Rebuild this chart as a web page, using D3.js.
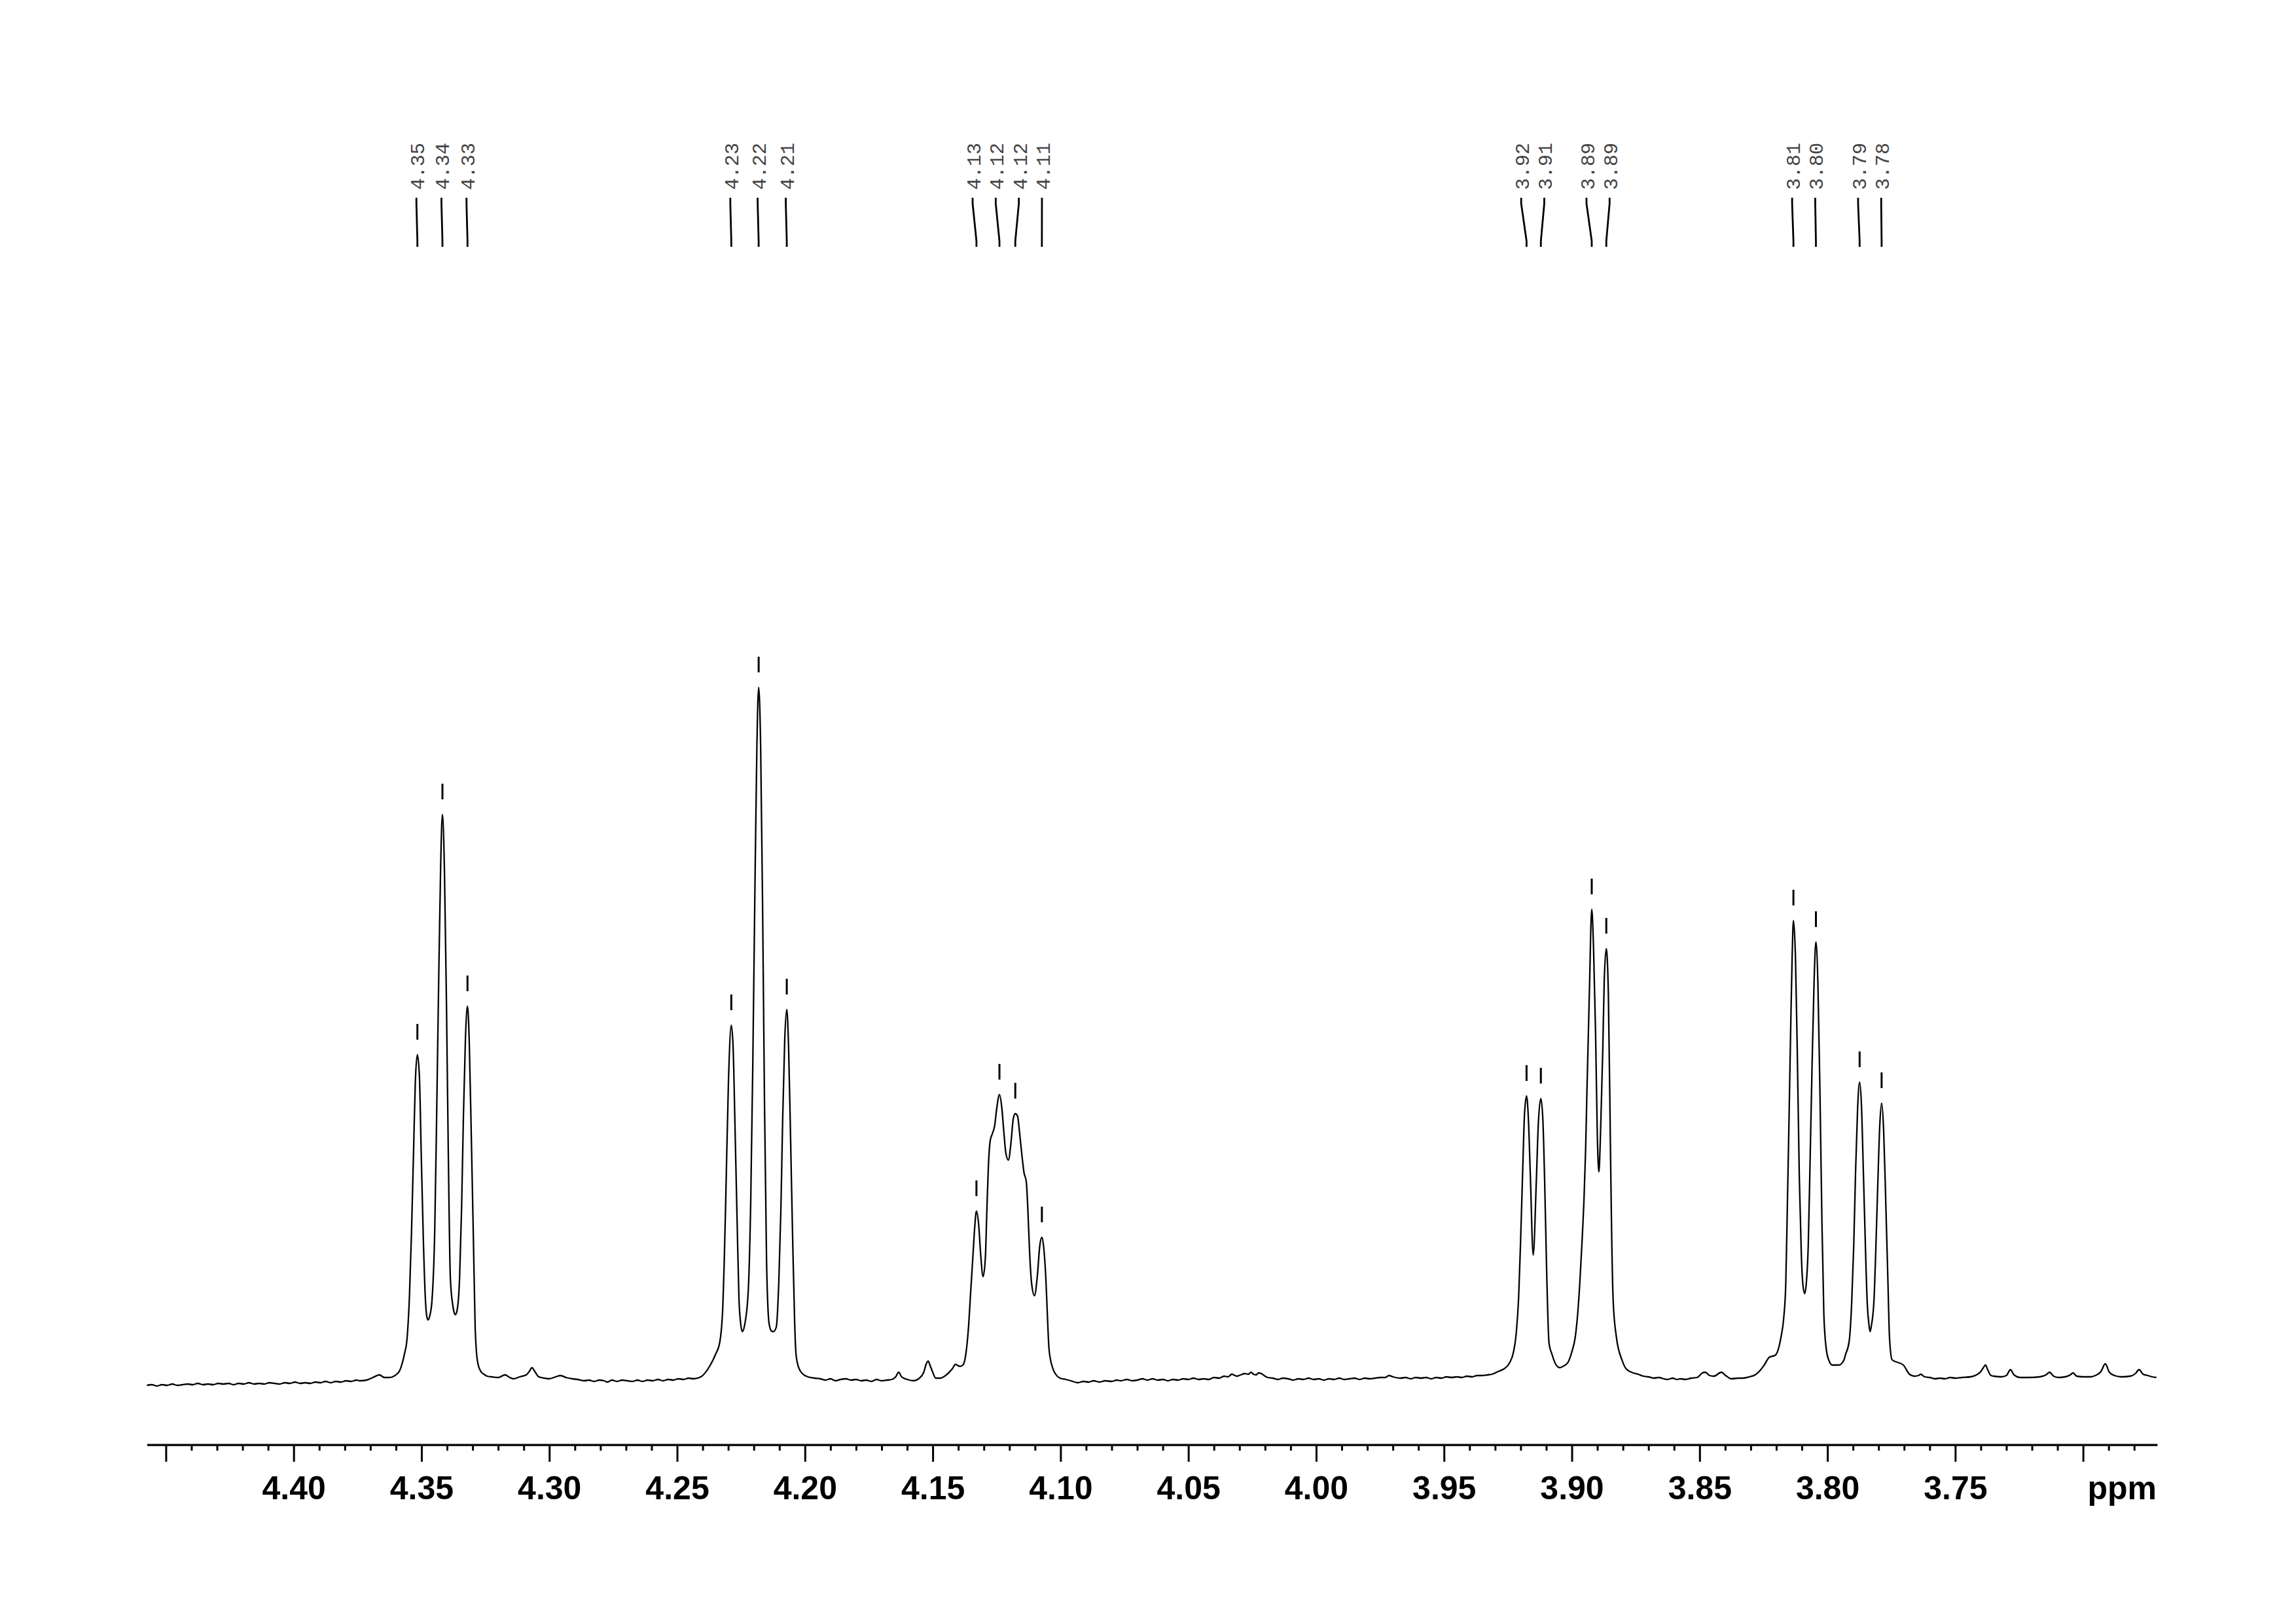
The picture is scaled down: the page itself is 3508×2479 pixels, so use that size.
<!DOCTYPE html>
<html><head><meta charset="utf-8">
<script src="https://cdn.jsdelivr.net/npm/d3@7"></script>
<style>html,body{margin:0;padding:0;background:#fff;} svg{display:block;}</style>
</head><body>
<svg id="chart" width="3508" height="2479"></svg>
<script>
// ---- DATA (chemical shift in ppm, intensity in arbitrary units) ----
const spectrum = [
[4.4574,-9],[4.4555,-8],[4.4535,-10],[4.4515,-8],[4.4495,-9],[4.4475,-7],[4.4455,-9],[4.4435,-8],[4.4415,-7],[4.4395,-8],
[4.4375,-6],[4.4355,-8],[4.4335,-7],[4.4315,-8],[4.4295,-6],[4.4275,-7],[4.4255,-6],[4.4235,-8],[4.4215,-6],[4.4195,-7],
[4.4175,-5],[4.4155,-7],[4.4135,-6],[4.4115,-7],[4.4095,-5],[4.4075,-6],[4.4055,-7],[4.4035,-5],[4.4015,-6],[4.3995,-4],
[4.3975,-6],[4.3955,-5],[4.3935,-6],[4.3915,-4],[4.3895,-5],[4.3875,-3],[4.3855,-5],[4.3835,-3],[4.3815,-4],[4.3795,-2],
[4.3775,-3],[4.3755,-1],[4.3740,-2],[4.3715,-1],[4.3690,3],[4.3665,7],[4.3645,3],
[4.3625,3],[4.3613,4],[4.3597,8],[4.3586,13],[4.3579,20],[4.3566,40],[4.3557,60],
[4.3547,128],[4.3539,225],[4.3531,348],[4.3524,455],[4.3516,496],[4.3508,462],[4.3501,345],[4.3493,218],[4.3485,125],
[4.3479,96],[4.3474,91],[4.3467,98],[4.3459,120],[4.3448,230],[4.3441,394],[4.3433,601],[4.3425,784],[4.3418,863],
[4.3410,774],[4.3402,567],[4.3395,344],[4.3387,155],[4.3377,112],[4.3371,101],[4.3367,99],[4.3361,105],[4.3351,154],
[4.3343,263],[4.3336,401],[4.3328,521],[4.3320,570],[4.3313,514],[4.3305,370],[4.3297,217],[4.3290,80],[4.3285,42],
[4.3279,24],[4.3269,13],[4.3256,8],[4.3243,5],
[4.3225,4],[4.3200,3],[4.3173,7],[4.3155,3],[4.3139,1],[4.3116,4],[4.3090,7],[4.3077,13],[4.3068,18],[4.3058,13],
[4.3041,4],[4.3020,2],[4.3001,1],[4.2975,4],[4.2956,6],[4.2935,3],[4.2910,1],[4.2890,0],[4.2864,-2],[4.2845,-1],
[4.2825,-3],[4.2805,-1],[4.2785,-2],[4.2773,-4],[4.2755,-1],[4.2735,-3],[4.2715,-1],[4.2695,-2],[4.2675,-3],[4.2655,-1],
[4.2636,-3],[4.2615,-1],[4.2595,-2],[4.2575,0],[4.2555,-2],[4.2535,0],[4.2515,-1],[4.2495,1],[4.2475,0],[4.2455,2],
[4.2435,1],
[4.2407,4],[4.2373,20],[4.2350,38],[4.2333,57],[4.2321,113],[4.2316,175],[4.2310,270],[4.2299,457],[4.2288,541],
[4.2281,508],[4.2273,378],[4.2265,238],[4.2258,123],[4.2252,88],[4.2245,73],[4.2235,85],[4.2222,133],[4.2212,272],
[4.2204,479],[4.2196,736],[4.2188,964],[4.2181,1057],[4.2173,962],[4.2165,700],[4.2158,418],[4.2150,179],[4.2140,85],
[4.2131,74],[4.2123,73],[4.2112,80],[4.2102,151],[4.2094,260],[4.2087,398],[4.2079,519],[4.2071,565],[4.2064,509],
[4.2056,367],[4.2048,215],[4.2040,85],[4.2036,45],[4.2030,26],[4.2018,13],[4.1995,5],[4.1962,2],
[4.1940,1],[4.1920,-1],[4.1900,1],[4.1880,-2],[4.1860,0],[4.1840,1],[4.1820,-1],[4.1800,0],[4.1780,-2],[4.1760,-1],
[4.1740,-3],[4.1720,0],[4.1700,-2],[4.1680,-1],[4.1660,0],[4.1645,4],[4.1633,11],
[4.1622,4],[4.1600,0],[4.1574,-2],[4.1555,1],[4.1535,11],[4.1527,22],[4.1518,28],[4.1510,21],[4.1501,12],[4.1488,2],
[4.1471,2],[4.1450,6],[4.1424,16],[4.1411,23],[4.1394,20],[4.1382,22],
[4.1369,43],[4.1360,80],[4.1352,131],[4.1343,187],[4.1336,231],[4.1329,257],[4.1320,235],[4.1313,194],[4.1303,157],
[4.1294,187],[4.1288,261],[4.1282,328],[4.1275,365],[4.1266,376],[4.1258,387],[4.1249,416],[4.1239,435],[4.1230,416],
[4.1222,379],[4.1214,346],[4.1204,335],[4.1194,361],[4.1185,398],[4.1177,406],[4.1168,402],[4.1160,376],[4.1151,342],
[4.1143,316],[4.1134,302],[4.1128,261],[4.1121,194],[4.1113,146],[4.1102,128],[4.1091,157],[4.1081,205],[4.1073,217],
[4.1066,202],[4.1057,150],[4.1051,94],[4.1045,46],[4.1032,19],[4.1019,8],[4.1002,2],[4.0980,0],[4.0960,-2],[4.0933,-5],
[4.0910,-3],[4.0890,-4],[4.0870,-2],[4.0848,-4],[4.0825,-2],[4.0800,-3],[4.0780,-1],[4.0764,-2],[4.0740,0],[4.0720,-2],
[4.0700,-1],[4.0680,1],[4.0660,-1],[4.0640,1],[4.0620,-1],[4.0600,0],[4.0580,-2],[4.0560,0],[4.0540,-1],[4.0520,1],
[4.0500,0],[4.0480,2],[4.0460,0],[4.0440,1],[4.0420,0],[4.0400,3],[4.0380,2],[4.0360,5],[4.0345,4],[4.0330,8],
[4.0310,5],[4.0295,7],[4.0280,9],[4.0265,8],[4.0255,11],[4.0245,8],[4.0235,7],[4.0225,10],[4.0215,9],[4.0200,5],
[4.0190,3],[4.0170,2],[4.0150,0],[4.0130,2],[4.0110,1],[4.0090,-1],[4.0070,1],[4.0050,0],[4.0030,2],[4.0010,0],
[3.9990,1],[3.9970,-1],[3.9950,1],[3.9930,0],[3.9910,2],[3.9890,0],[3.9870,1],[3.9850,2],[3.9830,0],[3.9810,2],
[3.9790,1],[3.9770,2],[3.9750,3],[3.9730,3],[3.9715,6],[3.9700,4],[3.9690,3],[3.9670,2],[3.9650,3],[3.9630,1],
[3.9610,3],[3.9590,2],[3.9570,3],[3.9550,1],[3.9530,3],[3.9510,2],[3.9490,4],[3.9470,3],[3.9450,4],[3.9430,3],
[3.9410,5],[3.9390,4],[3.9370,6],[3.9350,6],[3.9330,7],[3.9312,8],
[3.9289,12],[3.9266,16],[3.9244,25],[3.9228,42],[3.9218,68],[3.9208,125],[3.9200,215],[3.9192,320],[3.9185,405],
[3.9177,433],[3.9170,400],[3.9162,310],[3.9151,190],[3.9139,300],[3.9131,390],[3.9121,429],[3.9113,395],[3.9106,300],
[3.9098,160],[3.9089,55],[3.9078,39],[3.9064,24],[3.9047,18],[3.9030,21],[3.9015,26],[3.9000,42],[3.8986,66],
[3.8977,100],[3.8969,145],[3.8960,210],[3.8952,278],[3.8946,350],[3.8941,436],[3.8931,595],[3.8922,718],[3.8915,660],
[3.8907,530],[3.8900,370],[3.8894,317],[3.8887,385],[3.8879,500],[3.8873,610],[3.8865,658],[3.8857,590],[3.8849,360],
[3.8844,220],[3.8838,119],[3.8826,66],[3.8803,29],[3.8787,16],[3.8760,10],[3.8741,8],[3.8720,5],[3.8700,4],[3.8680,2],
[3.8660,3],[3.8640,1],[3.8626,0],[3.8605,2],[3.8590,0],
[3.8575,1],[3.8555,0],[3.8533,2],[3.8510,3],[3.8489,10],[3.8478,11],[3.8461,6],[3.8444,5],[3.8415,11],[3.8398,6],
[3.8375,1],[3.8350,2],[3.8329,2],[3.8305,4],[3.8283,7],[3.8265,13],[3.8249,21],[3.8227,34],[3.8204,37],[3.8181,66],
[3.8172,90],[3.8163,145],[3.8156,280],[3.8152,360],
[3.8144,530],[3.8138,645],[3.8133,701],[3.8125,645],[3.8117,480],[3.8110,310],[3.8102,190],[3.8096,145],[3.8089,131],
[3.8083,145],[3.8075,205],[3.8068,330],[3.8060,480],[3.8052,610],[3.8045,668],[3.8037,601],[3.8029,434],[3.8022,254],
[3.8014,100],[3.8004,45],[3.7993,28],[3.7981,22],[3.7955,22],[3.7935,30],[3.7930,37],[3.7915,58],[3.7905,118],
[3.7897,205],[3.7890,316],[3.7882,413],[3.7874,454],[3.7867,420],[3.7859,312],[3.7851,198],[3.7844,115],[3.7838,85],
[3.7833,73],[3.7829,80],[3.7818,120],[3.7811,195],[3.7803,298],[3.7795,390],[3.7788,422],[3.7780,380],[3.7772,274],
[3.7764,160],[3.7757,63],[3.7747,30],[3.7703,22],[3.7679,8],[3.7660,5],[3.7644,6],[3.7635,8],[3.7620,4],[3.7600,3],
[3.7580,1],[3.7560,2],[3.7540,1],[3.7520,3],[3.7500,2],[3.7474,3],[3.7440,4],[3.7417,7],[3.7400,12],[3.7390,18],
[3.7382,22],[3.7372,14],[3.7360,6],
[3.7348,5],[3.7320,4],[3.7300,6],[3.7284,15],[3.7270,7],[3.7245,3],[3.7210,3],[3.7170,4],[3.7145,7],[3.7131,11],
[3.7115,5],[3.7096,3],[3.7070,4],[3.7050,7],[3.7039,10],[3.7025,5],[3.6998,4],[3.6970,4],[3.6952,6],[3.6930,12],
[3.6913,24],[3.6897,11],[3.6877,6],[3.6850,4],[3.6816,5],[3.6795,9],[3.6781,15],[3.6765,8],[3.6747,6],[3.6730,4],
[3.6713,3]
];

const peakPpm = [4.3516, 4.3418, 4.3320, 4.2288, 4.2181, 4.2071, 4.1329, 4.1239, 4.1177, 4.1073,
                 3.9177, 3.9121, 3.8922, 3.8865, 3.8133, 3.8045, 3.7874, 3.7788];
const peakLabels = ["4.35","4.34","4.33","4.23","4.22","4.21","4.13","4.12","4.12","4.11",
                    "3.92","3.91","3.89","3.89","3.81","3.80","3.79","3.78"];

const majorTicks = [4.45,4.40,4.35,4.30,4.25,4.20,4.15,4.10,4.05,4.00,3.95,3.90,3.85,3.80,3.75,3.70];
const majorTickLabels = ["","4.40","4.35","4.30","4.25","4.20","4.15","4.10","4.05","4.00","3.95","3.90","3.85","3.80","3.75",""];
const axisUnit = "ppm";

// ---- DRAWING ----
const W = 3508, H = 2479;
const svg = d3.select("#chart");
svg.append("rect").attr("width", W).attr("height", H).attr("fill", "#fff");

const x = d3.scaleLinear().domain([4.4574, 3.6710]).range([224.5, 3295.9]);
const y = d3.scaleLinear().domain([0, 1057]).range([2107, 1050]);
const axisY = 2206.7;

// spectrum trace
const line = d3.line().x(d => x(d[0])).y(d => y(d[1])).curve(d3.curveMonotoneX);
svg.append("path").datum(spectrum)
  .attr("d", line).attr("fill", "none").attr("stroke", "#000")
  .attr("stroke-width", 2.3).attr("stroke-linejoin", "round");

// axis
const minorTicks = d3.range(445, 367, -1).map(v => v / 100).filter(v => Math.round(v * 100) % 5 !== 0);
const gMinor = svg.append("g").attr("transform", `translate(0,${axisY})`)
  .call(d3.axisBottom(x).tickValues(minorTicks).tickSize(9).tickSizeOuter(0).tickFormat(""));
gMinor.select(".domain").remove();
gMinor.selectAll(".tick line").attr("stroke", "#000").attr("stroke-width", 3);

const gMajor = svg.append("g").attr("transform", `translate(0,${axisY})`)
  .call(d3.axisBottom(x).tickValues(majorTicks).tickSize(26).tickSizeOuter(0)
        .tickFormat((d, i) => majorTickLabels[i]));
gMajor.select(".domain").attr("stroke", "#000").attr("stroke-width", 3.2);
gMajor.selectAll(".tick line").attr("stroke", "#000").attr("stroke-width", 3);
gMajor.selectAll(".tick text")
  .attr("y", 83.3).attr("dy", 0).attr("fill", "#000")
  .attr("font-family", "'Liberation Sans', Arial, sans-serif")
  .attr("font-weight", "bold").attr("font-size", 50);

svg.append("text").attr("x", 3295).attr("y", 2290).attr("text-anchor", "end")
  .attr("font-family", "'Liberation Sans', Arial, sans-serif")
  .attr("font-weight", "bold").attr("font-size", 50).attr("fill", "#000")
  .text(axisUnit);

// peak picking: labels spread apart, connectors, apex markers
function spread(xs, gap) {
  let clusters = xs.map((v, i) => ({ idx: [i], sum: v, n: 1, start: v }));
  let changed = true;
  while (changed) {
    changed = false;
    for (let k = 0; k < clusters.length - 1; k++) {
      const a = clusters[k], b = clusters[k + 1];
      const aEnd = a.start + (a.n - 1) * gap;
      if (b.start - aEnd < gap - 0.01) {
        const n = a.n + b.n, sum = a.sum + b.sum;
        clusters.splice(k, 2, { idx: a.idx.concat(b.idx), sum, n, start: sum / n - (n - 1) * gap / 2 });
        changed = true; break;
      }
    }
  }
  const out = new Array(xs.length);
  clusters.forEach(c => c.idx.forEach((id, j) => out[id] = c.start + j * gap));
  return out;
}
const peakX = peakPpm.map(p => x(p));
const labelX = spread(peakX, 35.3);

const gLab = svg.append("g");
peakPpm.forEach((p, i) => {
  const lx = labelX[i] - 1.5, px = peakX[i];
  gLab.append("text")
    .attr("transform", `translate(${lx},290) rotate(-90)`)
    .attr("dy", "0.4em")
    .attr("font-family", "'Liberation Mono', 'DejaVu Sans Mono', monospace")
    .attr("font-size", 30).attr("fill", "#444")
    .text(peakLabels[i]);
  gLab.append("path")
    .attr("d", `M${lx},302 L${lx},311 L${px},368 L${px},377`)
    .attr("fill", "none").attr("stroke", "#000").attr("stroke-width", 2.8);
  const apex = d3.least(spectrum, d => Math.abs(d[0] - p));
  const yt = y(apex[1]);
  gLab.append("line").attr("x1", px).attr("x2", px).attr("y1", yt - 47).attr("y2", yt - 23)
    .attr("stroke", "#000").attr("stroke-width", 3);
});
</script>
</body></html>
